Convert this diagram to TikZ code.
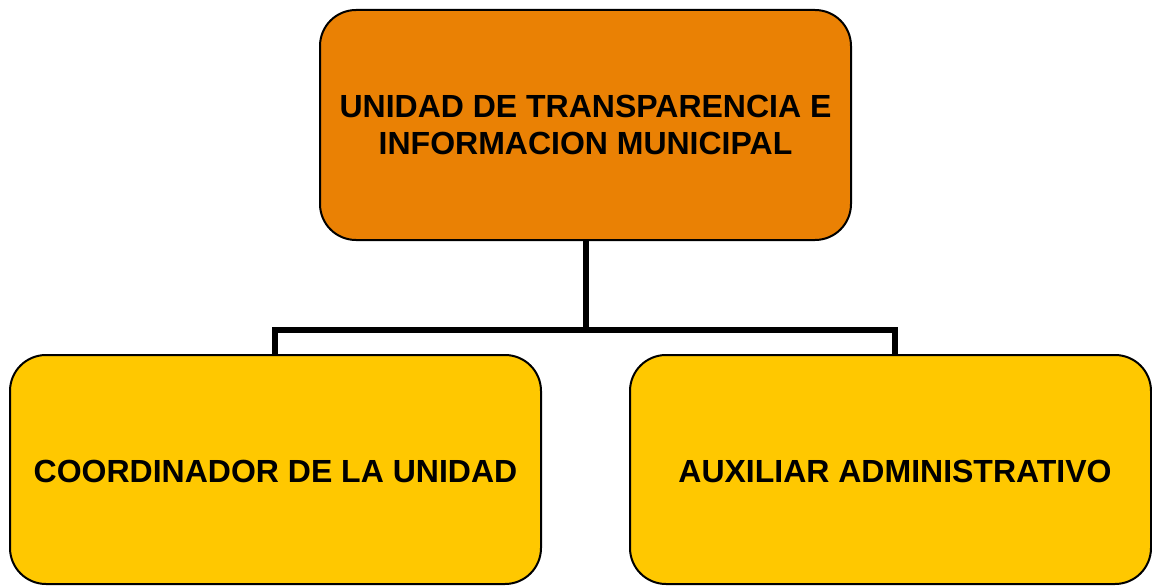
\documentclass[tikz,border=0pt]{standalone}
\usepackage{fontspec}
\setmainfont{Liberation Sans}
\definecolor{orgbox}{HTML}{EA8104}
\definecolor{yelbox}{HTML}{FFC800}
\begin{document}
\begin{tikzpicture}[x=1pt,y=1pt,
  unitbox/.style={draw=black, line width=2pt, rounded corners=36pt, minimum width=531pt, minimum height=229pt, inner sep=0pt},
  unittext/.style={font=\fontsize{32}{37}\selectfont\bfseries, align=center},
  link/.style={draw=black, line width=6pt}]
\useasboundingbox (0,0) rectangle (1152,-586);
\node[unitbox, fill=orgbox, minimum height=230pt] (top) at (585.5,-125) {};
\node[unittext] (toptext) at (585.5,-125) {UNIDAD DE TRANSPARENCIA E\\INFORMACION MUNICIPAL};
\node[unitbox, fill=yelbox] (lb) at (275.5,-469.5) {};
\node[unittext] (lbtext) at (275.5,-471) {COORDINADOR DE LA UNIDAD};
\node[unitbox, fill=yelbox, minimum width=521pt] (rb) at (890.5,-469.5) {};
\node[unittext] (rbtext) at (895,-471) {AUXILIAR ADMINISTRATIVO};
\coordinate (j) at (585.5,-330);
\coordinate (lj) at (275,-330);
\coordinate (rj) at (895,-330);
\draw[link] (top.south) -- (j);
\draw[link, line cap=rect] (lj) -- (rj);
\draw[link] (lj) -- (lj |- lb.north);
\draw[link] (rj) -- (rj |- rb.north);
\end{tikzpicture}
\end{document}
